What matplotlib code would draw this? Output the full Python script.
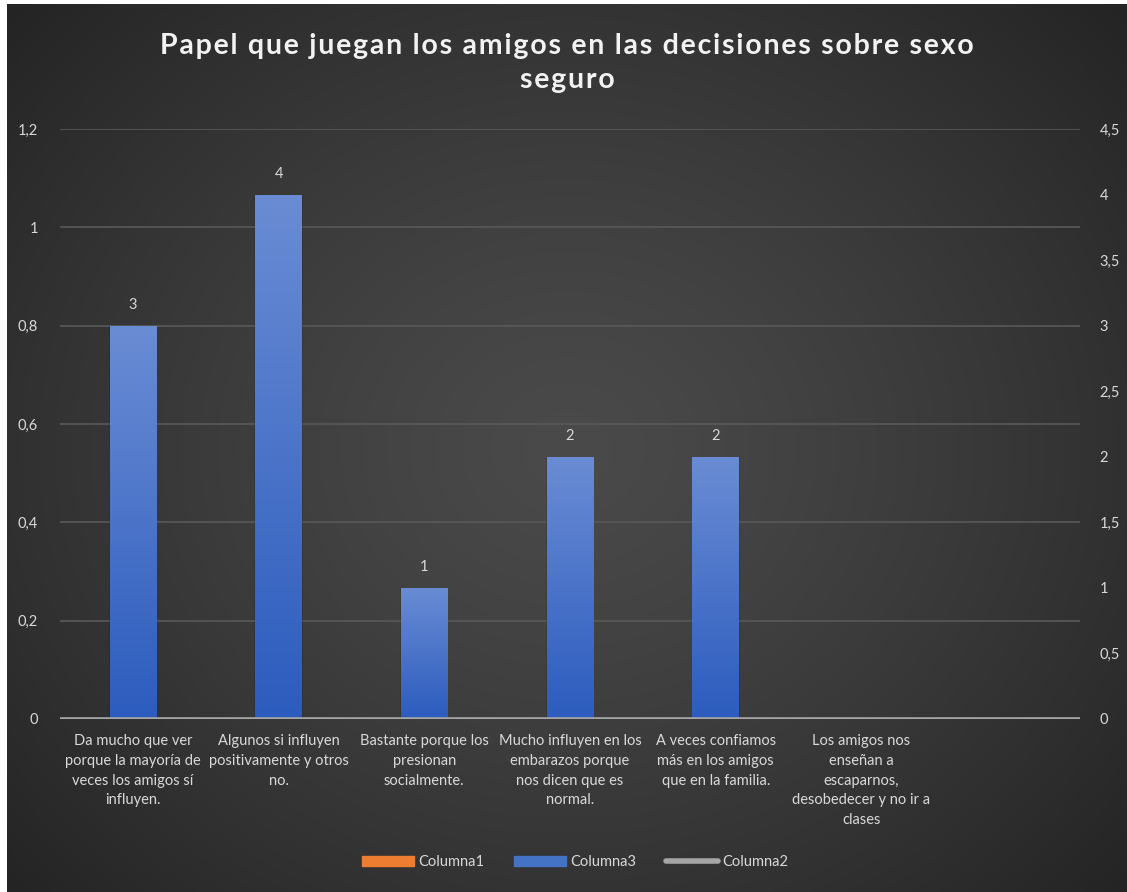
import numpy as np
import matplotlib
matplotlib.use("Agg")
import matplotlib.pyplot as plt
from matplotlib.patches import Rectangle
from matplotlib.lines import Line2D

# ---- data ----
categorias = [
    "Da mucho que ver\nporque la mayoría de\nveces los amigos sí\ninfluyen.",
    "Algunos si influyen\npositivamente y otros\nno.",
    "Bastante porque los\npresionan\nsocialmente.",
    "Mucho influyen en los\nembarazos porque\nnos dicen que es\nnormal.",
    "A veces confiamos\nmás en los amigos\nque en la familia.",
    "Los amigos nos\nenseñan a\nescaparnos,\ndesobedecer y no ir a\nclases",
    "",
]
columna1 = [None, None, None, None, None, None, None]
columna3 = [3, 4, 1, 2, 2, None, None]
columna2 = [None, None, None, None, None, None, None]

ticks_izq = [0, 0.2, 0.4, 0.6, 0.8, 1.0, 1.2]
etiquetas_izq = ["0", "0,2", "0,4", "0,6", "0,8", "1", "1,2"]
ticks_der = [0, 0.5, 1, 1.5, 2, 2.5, 3, 3.5, 4, 4.5]
etiquetas_der = ["0", "0,5", "1", "1,5", "2", "2,5", "3", "3,5", "4", "4,5"]

titulo = "Papel que juegan los amigos en las decisiones sobre sexo\nseguro"


def espaciado(texto, sep="\u200a"):
    """Loosen the tracking of a string by inserting hair spaces between glyphs."""
    return "\n".join(sep.join(linea) for linea in texto.split("\n"))


# ---- style ----
FONT = "Lato"
TXT = "#d9d9d9"
W, H = 1127, 892
plt.rcParams["font.family"] = [FONT, "DejaVu Sans"]

fig = plt.figure(figsize=(W / 100, H / 100), dpi=100, facecolor="white")

# dark radial background panel
bg = fig.add_axes([7 / W, 0, 1 - 7 / W, 1 - 4 / H])
bg.set_axis_off()
yy, xx = np.mgrid[0:400, 0:500]
cx, cy = 250, 200
r = np.sqrt(((xx - cx) / 330.0) ** 2 + ((yy - cy) / 290.0) ** 2)
r = np.clip(r, 0, 1)
c_in, c_out = 0.29, 0.145
val = c_in + (c_out - c_in) * r ** 1.3
bg.imshow(np.dstack([val, val, val]), aspect="auto", extent=[0, 1, 0, 1],
          interpolation="bilinear")
bg.set_xlim(0, 1)
bg.set_ylim(0, 1)

# plot area
left, right = 60 / W, 1080 / W
bottom, top = (H - 719) / H, (H - 129) / H
ax = fig.add_axes([left, bottom, right - left, top - bottom])
ax.patch.set_alpha(0)
ax2 = ax.twinx()
ax2.patch.set_alpha(0)

x = np.arange(len(categorias))
ax.set_xlim(-0.5, len(categorias) - 0.5)
ax.set_ylim(0, 1.2)

# gridlines from the primary axis
for t in ticks_izq[1:]:
    ax.axhline(t, color="#595959", lw=1.2, zorder=0)

# bars with vertical gradient
bw = 0.32
grad = np.linspace(0, 1, 256).reshape(-1, 1)
top_c = np.array([0x6a, 0x8c, 0xd4]) / 255
bot_c = np.array([0x2c, 0x5c, 0xbe]) / 255
grad_img = bot_c[None, None, :] * (1 - grad[..., None]) + top_c[None, None, :] * grad[..., None]
grad_img = grad_img[::-1]
vals = [np.nan if v is None else v for v in columna3]
bars = ax2.bar(x, vals, width=bw, color="#4472c4", zorder=2)
for b, v in zip(bars, vals):
    if np.isnan(v) or v == 0:
        continue
    x0, w_, h_ = b.get_x(), b.get_width(), b.get_height()
    # faint side shadow
    sh = Rectangle((x0 - 0.006, 0), w_ + 0.012, h_, color="black", alpha=0.1,
                   lw=0, zorder=1)
    ax2.add_patch(sh)
    im = ax2.imshow(grad_img, extent=[x0, x0 + w_, 0, h_], aspect="auto", zorder=3,
                    interpolation="bilinear")
    im.set_clip_path(b)
    ax2.annotate(f"{v:g}", (x0 + w_ / 2, h_), xytext=(0, 15), textcoords="offset points",
                 ha="center", va="center", color=TXT, fontsize=10.5, zorder=6)
ax2.set_xlim(-0.5, len(categorias) - 0.5)
ax2.set_ylim(0, 4.5)
ax2.axhline(0, color="#a6a6a6", lw=2.6, zorder=5, solid_capstyle="butt")

# empty primary series (kept for the legend)
c1 = [np.nan if v is None else v for v in columna1]
c2 = [np.nan if v is None else v for v in columna2]
ax.bar(x, c1, width=bw, color="#ed7d31")
ax.plot(x, c2, color="#a5a5a5", lw=4)

# ticks
for a in (ax, ax2):
    for s in a.spines.values():
        s.set_visible(False)
ax.set_yticks(ticks_izq)
ax.set_yticklabels(etiquetas_izq)
ax2.set_yticks(ticks_der)
ax2.set_yticklabels(etiquetas_der)
ax.tick_params(axis="y", length=0, pad=16, labelcolor=TXT, labelsize=10.5)
ax2.tick_params(axis="y", length=0, pad=14, labelcolor=TXT, labelsize=10.5)
ax.set_xticks(x)
ax.set_xticklabels(categorias, linespacing=1.52)
ax.tick_params(axis="x", length=0, pad=11, labelcolor=TXT, labelsize=10.5)

# title
fig.text(567 / W, 1 - 63 / H, espaciado(titulo), ha="center", va="center",
         color="#f2f2f2", fontsize=20.5, fontweight="bold", linespacing=1.38)

# legend
handles = [
    Rectangle((0, 0), 1, 1, color="#ed7d31"),
    Rectangle((0, 0), 1, 1, color="#4472c4"),
    Line2D([0], [0], color="#a5a5a5", lw=4, solid_capstyle="round"),
]
leg = fig.legend(handles, ["Columna1", "Columna3", "Columna2"], loc="center",
                 bbox_to_anchor=(575 / W, 1 - 862 / H), ncol=3, frameon=False,
                 fontsize=10.5, handlelength=3.6, handleheight=0.7, handletextpad=0.3,
                 columnspacing=2.0)
for t in leg.get_texts():
    t.set_color(TXT)

fig.savefig("out.png", dpi=100, facecolor="white")
